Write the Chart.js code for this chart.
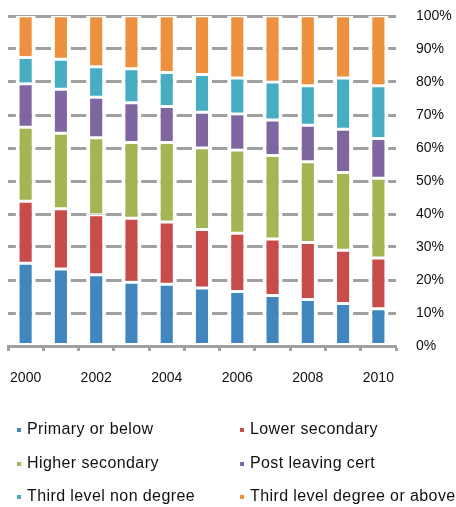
<!DOCTYPE html>
<html>
<head>
<meta charset="utf-8">
<script src="https://cdn.jsdelivr.net/npm/chart.js@4/dist/chart.umd.min.js"></script>
<style>
  html, body { margin: 0; padding: 0; background: #fff; }
  #wrap { width: 456px; height: 507px; }
</style>
</head>
<body>
<div id="wrap"><canvas id="eduChart"></canvas></div>
<script>
// years on the x axis
const years = ['2000', '2001', '2002', '2003', '2004', '2005', '2006', '2007', '2008', '2009', '2010'];

// share of each level, percent
const primaryOrBelow = [25.1, 23.3, 21.6, 19.3, 18.7, 17.6, 16.5, 15.3, 14.1, 12.9, 11.3];
const lowerSecondary = [18.8, 18.3, 18.2, 19.4, 18.9, 17.7, 17.7, 17.1, 17.3, 16.1, 15.4];
const higherSecondary = [22.4, 22.9, 23.3, 23.0, 24.1, 24.7, 25.2, 25.3, 24.4, 23.6, 24.1];
const postLeavingCert = [13.2, 13.3, 12.3, 12.0, 10.9, 10.8, 10.9, 10.8, 11.1, 13.1, 12.1];
const thirdNonDegree = [7.9, 9.1, 9.2, 10.3, 10.3, 11.5, 10.9, 11.5, 12.0, 15.5, 16.0];
const thirdDegree = [12.6, 13.1, 15.4, 16.0, 17.1, 17.7, 18.8, 20.0, 21.1, 18.8, 21.1];

const seriesNames = ['Primary or below', 'Lower secondary', 'Higher secondary',
    'Post leaving cert', 'Third level non degree', 'Third level degree or above'];
const seriesValues = [primaryOrBelow, lowerSecondary, higherSecondary, postLeavingCert, thirdNonDegree, thirdDegree];
const seriesColors = ['#4286c0', '#c84c4a', '#a4b553', '#7f66a1', '#46adc3', '#ee913f'];

const FONT = '"Liberation Sans", Arial, sans-serif';
const GRID = '#a0a0a0';

// legend in two fixed columns under the axis
const twoColLegend = {
    id: 'twoColLegend',
    afterDraw(chart) {
        const ctx = chart.ctx;
        const colX = [17, 240];
        const rowY = [430, 464, 497];
        ctx.save();
        ctx.font = '16px ' + FONT;
        ctx.letterSpacing = '0.4px';
        ctx.textBaseline = 'middle';
        ctx.textAlign = 'left';
        chart.data.datasets.forEach((ds, i) => {
            const x = colX[i % 2];
            const y = rowY[Math.floor(i / 2)];
            ctx.fillStyle = ds.backgroundColor;
            ctx.fillRect(x, y - 2, 4, 4);
            ctx.fillStyle = '#111';
            ctx.fillText(ds.label, x + 10, y);
        });
        ctx.restore();
    }
};

// drop the extra room Chart.js keeps for edge labels
const noEdgePadding = (scale) => {
    scale.paddingLeft = 0;
    scale.paddingRight = 0;
    scale.paddingTop = 0;
    scale.paddingBottom = 0;
};

const datasets = seriesNames.map((name, i) => ({
    label: name,
    data: seriesValues[i],
    backgroundColor: seriesColors[i],
    borderColor: '#ffffff',
    borderWidth: { left: 4, right: 4, top: 1.5, bottom: 1.5 },
    borderSkipped: false,
    barPercentage: 0.57,
    categoryPercentage: 1.0
}));

new Chart(document.getElementById('eduChart'), {
    type: 'bar',
    data: { labels: years, datasets: datasets },
    plugins: [twoColLegend],
    options: {
        responsive: true,
        maintainAspectRatio: false,
        animation: false,
        layout: { padding: { top: 16, left: 8, right: 0, bottom: 100 } },
        plugins: {
            legend: { display: false },
            tooltip: { enabled: false }
        },
        scales: {
            x: {
                stacked: true,
                afterFit: (scale) => { scale.height = 61; noEdgePadding(scale); },
                grid: {
                    offset: true,
                    drawOnChartArea: false,
                    drawTicks: true,
                    tickLength: 5,
                    tickWidth: 3,
                    tickColor: GRID
                },
                border: { display: true, color: GRID, width: 3 },
                ticks: {
                    autoSkip: false,
                    maxRotation: 0,
                    padding: 19,
                    color: '#111',
                    font: { family: FONT, size: 14 },
                    callback: function (val, idx) {
                        return idx % 2 === 0 ? this.getLabelForValue(val) : '';
                    }
                }
            },
            y: {
                stacked: true,
                position: 'right',
                min: 0,
                max: 100,
                afterFit: (scale) => { scale.width = 60; noEdgePadding(scale); },
                grid: { color: GRID, lineWidth: 3, drawTicks: false },
                border: { display: false },
                ticks: {
                    stepSize: 10,
                    padding: 20,
                    color: '#111',
                    font: { family: FONT, size: 14 },
                    callback: (v) => v + '%'
                }
            }
        }
    }
});
</script>
</body>
</html>
